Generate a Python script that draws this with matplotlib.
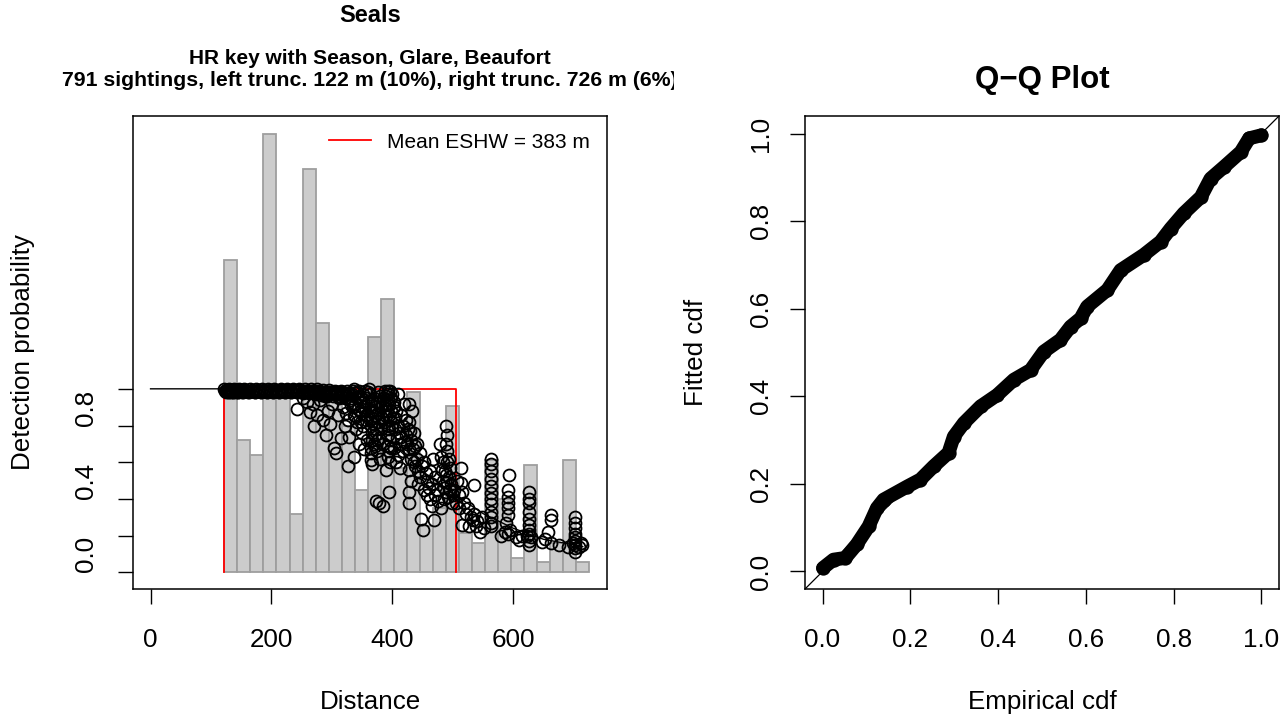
import numpy as np
import matplotlib
matplotlib.use("Agg")
import matplotlib.pyplot as plt
from matplotlib.transforms import Bbox, ScaledTranslation

plt.rcParams['font.family'] = ['Liberation Sans', 'DejaVu Sans']

# ---- data ----
left_trunc = 122
right_trunc = 726
eshw = 383

# scaled histogram bar heights (28 bins from 122 m to 726 m)
bar_height = [1.70, 0.72, 0.64, 2.39, 0.96, 0.32, 2.20, 1.36, 0.95, 0.80,
              0.45, 1.28, 1.49, 0.57, 0.985, 0.25, 0.35, 0.905, 0.215, 0.16,
              0.61, 0.40, 0.08, 0.585, 0.055, 0.16, 0.61, 0.055]

# mean detection curve
curve_dist = [0, 122, 250, 300, 350, 400, 450, 500, 550, 600, 650, 700, 715]
curve_prob = [1.0, 1.0, 0.995, 0.96, 0.86, 0.70, 0.55, 0.43, 0.32, 0.24, 0.18, 0.15, 0.14]

# per-sighting detection probabilities (distance, prob)
sightings = [
    # flat band near 1
    (122, 1.0), (124, 0.995), (126, 0.99), (128, 0.985), (130, 1.0), (132, 0.995),
    (134, 0.99), (136, 0.985), (138, 1.0), (140, 0.995), (142, 0.99), (144, 0.985),
    (146, 1.0), (148, 0.995), (150, 0.99), (152, 0.985), (155, 1.0), (157, 0.995),
    (160, 0.99), (162, 0.985), (165, 1.0), (167, 0.995), (170, 0.99), (172, 0.985),
    (175, 1.0), (177, 0.995), (180, 0.99), (182, 0.985), (185, 1.0), (187, 0.995),
    (190, 0.99), (192, 0.985), (195, 1.0), (197, 0.995), (200, 0.99), (202, 0.985),
    (205, 1.0), (207, 0.995), (210, 0.99), (212, 0.985), (215, 1.0), (217, 0.995),
    (220, 0.99), (222, 0.985), (225, 1.0), (227, 0.995), (230, 0.99), (232, 0.985),
    (235, 1.0), (237, 0.995), (240, 0.99), (242, 0.985), (245, 1.0), (247, 0.995),
    (250, 0.985), (252, 0.975), (255, 1.0), (257, 0.99), (260, 0.985), (262, 0.975),
    (265, 1.0), (267, 0.99), (270, 0.985), (272, 0.97), (275, 1.0), (277, 0.99),
    (280, 0.98), (282, 0.965), (285, 0.995), (287, 0.985), (290, 0.98), (292, 0.96),
    (295, 0.995), (297, 0.985), (300, 0.975), (302, 0.96), (305, 0.99), (307, 0.98),
    (310, 0.975), (312, 0.955), (315, 0.99), (317, 0.98), (320, 0.97), (322, 0.95),
    (325, 0.99), (327, 0.975), (330, 0.97), (332, 0.95), (335, 0.99), (338, 0.975),
    (342, 0.98), (347, 0.96), (352, 0.97), (357, 0.95), (360, 0.98),
    (123, 0.99), (125, 0.98), (127, 0.995), (129, 0.98), (131, 0.99), (133, 0.98),
    (135, 0.995), (137, 0.98), (139, 0.99), (141, 0.98), (143, 0.995), (145, 0.98),
    (149, 0.99), (153, 0.98), (158, 0.99), (163, 0.98), (168, 0.99), (173, 0.98),
    (178, 0.99), (183, 0.98), (188, 0.99), (193, 0.98), (198, 0.99), (203, 0.98),
    (208, 0.99), (213, 0.98), (218, 0.99), (223, 0.98), (228, 0.99), (233, 0.98),
    (238, 0.99), (243, 0.98), (248, 0.99), (253, 0.98), (258, 0.99), (263, 0.98),
    (268, 0.99), (273, 0.98), (278, 0.985), (283, 0.975), (288, 0.985), (293, 0.975),
    (298, 0.98), (303, 0.97), (308, 0.98), (313, 0.97), (318, 0.975), (323, 0.965),
    # 240-330
    (243, 0.89), (252, 0.95), (258, 0.93), (263, 0.875), (268, 0.92), (271, 0.80),
    (276, 0.86), (280, 0.94), (285, 0.83), (290, 0.75), (293, 0.88), (297, 0.81),
    (300, 0.92), (304, 0.68), (307, 0.65), (310, 0.86), (315, 0.73), (318, 0.90),
    (322, 0.80), (326, 0.58), (326, 0.83), (329, 0.74), (330, 0.94), (324, 0.87),
    (312, 0.95), (288, 0.96), (296, 0.97),
    # 330-360
    (333, 0.97), (335, 0.90), (337, 0.63), (338, 0.85), (340, 0.78), (342, 0.95),
    (344, 0.70), (346, 0.88), (348, 0.82), (350, 0.76), (351, 0.93), (353, 0.67),
    (355, 0.99), (356, 0.86), (358, 0.72), (345, 0.99), (337, 1.0),
    (332, 0.91), (336, 0.86), (339, 0.92), (341, 0.82), (343, 0.89), (347, 0.93),
    (349, 0.87), (352, 0.80), (354, 0.90), (357, 0.83), (359, 0.93),
    # 360-400
    (362, 1.0), (363, 0.97), (364, 0.92), (365, 0.88), (366, 0.84), (365, 0.80),
    (367, 0.76), (366, 0.72), (365, 0.68), (365, 0.65), (365, 0.61), (366, 0.59),
    (370, 0.95), (371, 0.90), (372, 0.85), (373, 0.78), (373, 0.39), (378, 0.38),
    (384, 0.36), (369, 0.70), (374, 0.66),
    (361, 0.88), (363, 0.83), (367, 0.94), (368, 0.88), (369, 0.81), (371, 0.75),
    (372, 0.69), (374, 0.72), (375, 0.93), (376, 0.87), (377, 0.82), (379, 0.96),
    (381, 0.90), (383, 0.84), (385, 0.95), (387, 0.91), (389, 0.85), (391, 0.92),
    (393, 0.97), (397, 0.95), (398, 0.88), (399, 0.79), (398, 0.68),
    (388, 0.99), (392, 0.99), (396, 0.99), (390, 0.96), (393, 0.94), (395, 0.91),
    (391, 0.88), (394, 0.86), (396, 0.83), (392, 0.80), (395, 0.78), (393, 0.75),
    (396, 0.72), (392, 0.69), (395, 0.66), (393, 0.63), (396, 0.60), (390, 0.56),
    (395, 0.44), (380, 0.93), (384, 0.88), (386, 0.82), (382, 0.78), (378, 0.73),
    (385, 0.70), (380, 0.62), (377, 0.98),
    # 400-450
    (402, 0.90), (405, 0.84), (404, 0.78), (408, 0.73), (403, 0.68), (410, 0.64),
    (406, 0.60), (412, 0.57), (414, 0.86), (417, 0.80), (420, 0.92), (422, 0.75),
    (425, 0.70), (428, 0.92), (428, 0.82), (429, 0.77), (430, 0.72), (428, 0.67),
    (431, 0.62), (428, 0.56), (430, 0.50), (428, 0.44), (428, 0.38), (435, 0.76),
    (437, 0.69), (440, 0.62), (442, 0.55), (438, 0.58), (447, 0.29), (450, 0.23),
    (445, 0.65), (418, 0.66), (413, 0.70), (400, 0.97), (410, 0.97),
    (401, 0.84), (403, 0.93), (406, 0.88), (409, 0.80), (411, 0.76), (415, 0.74),
    (419, 0.71), (423, 0.83), (426, 0.78), (432, 0.88), (434, 0.67), (436, 0.60),
    (440, 0.70), (443, 0.48), (446, 0.52), (449, 0.58),
    # 450-520
    (452, 0.60), (455, 0.54), (458, 0.50), (460, 0.46), (462, 0.55), (465, 0.48),
    (467, 0.62), (469, 0.285), (470, 0.42), (474, 0.45), (478, 0.70), (480, 0.63),
    (482, 0.56), (484, 0.50), (486, 0.46), (488, 0.80), (489, 0.70), (490, 0.66),
    (491, 0.60), (489, 0.53), (490, 0.49), (488, 0.44), (492, 0.41), (495, 0.57),
    (496, 0.45), (498, 0.38), (500, 0.42), (494, 0.62), (486, 0.40), (505, 0.38),
    (513, 0.567), (513, 0.485), (516, 0.44), (519, 0.376), (516, 0.26), (510, 0.35),
    (453, 0.45), (457, 0.42), (463, 0.40), (466, 0.36), (471, 0.52), (476, 0.39),
    (481, 0.35), (484, 0.60), (487, 0.55), (490, 0.75), (493, 0.52), (497, 0.48),
    (502, 0.45), (507, 0.50), (511, 0.42),
    # beyond 520
    (527, 0.25), (533, 0.285), (535, 0.476), (535, 0.32), (540, 0.28), (545, 0.22),
    (548, 0.30), (552, 0.24), (522, 0.32), (525, 0.35), (530, 0.30), (538, 0.25),
    (563, 0.62), (563, 0.59), (563, 0.55), (563, 0.51), (563, 0.47), (563, 0.43),
    (563, 0.40), (563, 0.37), (563, 0.33), (563, 0.30), (563, 0.27), (563, 0.25),
    (593, 0.53), (591, 0.45), (591, 0.41), (591, 0.38), (591, 0.35), (591, 0.31),
    (588, 0.27), (591, 0.21), (595, 0.23), (610, 0.176), (605, 0.19), (615, 0.20),
    (580, 0.20), (586, 0.22),
    (626, 0.44), (626, 0.40), (626, 0.376), (626, 0.33), (626, 0.29), (626, 0.26),
    (626, 0.23), (626, 0.21), (626, 0.17), (626, 0.15), (622, 0.20), (630, 0.19),
    (648, 0.167), (657, 0.22), (662, 0.312), (662, 0.285), (662, 0.158), (652, 0.18),
    (675, 0.15), (690, 0.14),
    (702, 0.30), (702, 0.27), (702, 0.24), (702, 0.21), (702, 0.19), (702, 0.17),
    (702, 0.15), (702, 0.13), (702, 0.11), (708, 0.14), (712, 0.158), (714, 0.149),
    (698, 0.16),
]

# Q-Q plot points (empirical cdf, fitted cdf)
qq_emp = [0.001, 0.025, 0.052, 0.078, 0.105, 0.124, 0.139, 0.193, 0.223, 0.253,
          0.287, 0.299, 0.322, 0.360, 0.398, 0.436, 0.474, 0.504, 0.542, 0.565,
          0.588, 0.603, 0.649, 0.679, 0.732, 0.770, 0.793, 0.823, 0.862, 0.884,
          0.915, 0.953, 0.972, 1.0]
qq_fit = [0.008, 0.027, 0.031, 0.062, 0.103, 0.145, 0.164, 0.194, 0.210, 0.240,
          0.271, 0.308, 0.339, 0.377, 0.403, 0.438, 0.460, 0.502, 0.529, 0.559,
          0.578, 0.605, 0.643, 0.688, 0.723, 0.753, 0.783, 0.818, 0.855, 0.897,
          0.924, 0.958, 0.989, 0.996]

W, H = 1288, 719
fig = plt.figure(figsize=(W / 100, H / 100), dpi=100)

ax1 = fig.add_axes([133 / W, 1 - 589 / H, 474 / W, 473 / H])
ax2 = fig.add_axes([805 / W, 1 - 589 / H, 474 / W, 473 / H])

fs = 18.7
tick_kw = dict(length=11, width=1.0, labelsize=fs, direction='out')

# ---- left panel ----
edges = np.linspace(left_trunc, right_trunc, len(bar_height) + 1)
ax1.bar(edges[:-1], bar_height, width=np.diff(edges), align='edge',
        color='#cccccc', edgecolor='#9e9e9e', linewidth=1.3, zorder=1)
ax1.plot([left_trunc, left_trunc, left_trunc + eshw, left_trunc + eshw],
         [0, 1, 1, 0], color='red', lw=1.3, zorder=2, label='Mean ESHW = 383 m')
ax1.plot(curve_dist, curve_prob, color='black', lw=1.0, zorder=3)
sd, sp = zip(*sightings)
ax1.plot(sd, sp, 'o', ms=8.6, mfc='none', mec='black', mew=1.3, zorder=4)

ax1.set_xlim(-29.04, 755.04)
ax1.set_ylim(-0.091, 2.487)
ax1.set_xticks([0, 200, 400, 600])
ax1.set_yticks([0, 0.2, 0.4, 0.6, 0.8, 1.0])
ax1.set_yticklabels(['0.0', '', '0.4', '', '0.8', ''])
ax1.tick_params(axis='x', pad=17, **tick_kw)
ax1.tick_params(axis='y', pad=14, **tick_kw)
# labels on this axis sit a little above their ticks in the reference
shift_up = ScaledTranslation(0, 18 / 100, fig.dpi_scale_trans)
for lab in ax1.get_yticklabels():
    lab.set_rotation(90)
    lab.set_va('center')
    lab.set_transform(lab.get_transform() + shift_up)
ax1.set_xlabel('Distance', fontsize=fs, va='center')
ax1.xaxis.set_label_coords(0.5, (589 - 702) / 473)
ax1.set_ylabel('Detection probability', fontsize=fs, va='center')
ax1.yaxis.set_label_coords((23 - 133) / 474, 0.5)
ax1.legend(loc='upper right', frameon=False, fontsize=15, handlelength=2.0,
           handletextpad=0.8, borderaxespad=0.4)

# ---- right panel ----
ax2.axline((0, 0), (1, 1), color='black', lw=0.9, zorder=1)
ax2.plot(qq_emp, qq_fit, '-', color='black', lw=10, solid_capstyle='round', zorder=2)
ax2.plot(qq_emp, qq_fit, 'o', ms=9, mfc='none', mec='black', mew=1.3, zorder=3)
ax2.set_xlim(-0.04, 1.04)
ax2.set_ylim(-0.04, 1.04)
ticks = [0.0, 0.2, 0.4, 0.6, 0.8, 1.0]
ax2.set_xticks(ticks)
ax2.set_yticks(ticks)
ax2.set_xticklabels([f'{t:.1f}' for t in ticks])
ax2.set_yticklabels([f'{t:.1f}' for t in ticks])
ax2.tick_params(axis='x', pad=17, **tick_kw)
ax2.tick_params(axis='y', pad=12, **tick_kw)
for lab in ax2.get_yticklabels():
    lab.set_rotation(90)
    lab.set_va('center')
ax2.set_xlabel('Empirical cdf', fontsize=fs, va='center')
ax2.xaxis.set_label_coords(0.5, (589 - 702) / 473)
ax2.set_ylabel('Fitted cdf', fontsize=fs, va='center')
ax2.yaxis.set_label_coords((696 - 805) / 474, 0.5)

for ax in (ax1, ax2):
    for s in ax.spines.values():
        s.set_linewidth(1.1)

# ---- titles ----
fig.text(370 / W, 1 - 15 / H, 'Seals', ha='center', va='center',
         fontsize=17, fontweight='bold')
fig.text(370 / W, 1 - 58 / H, 'HR key with Season, Glare, Beaufort',
         ha='center', va='center', fontsize=15, fontweight='bold')
t3 = fig.text(370 / W, 1 - 80 / H,
              '791 sightings, left trunc. 122 m (10%), right trunc. 726 m (6%)',
              ha='center', va='center', fontsize=15.3, fontweight='bold')
t3.set_clip_box(Bbox.from_extents(0, 0, 674, H))
t3.set_clip_on(True)
fig.text(1042 / W, 1 - 80 / H, 'Q\u2212Q Plot', ha='center', va='center',
         fontsize=22.5, fontweight='bold')

fig.savefig('out.png', dpi=100)
